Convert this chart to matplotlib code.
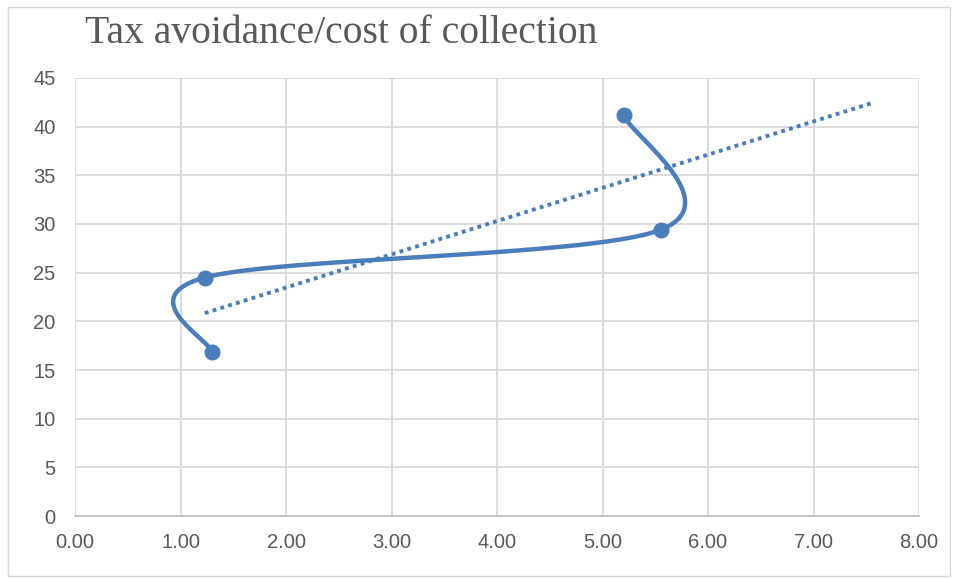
import numpy as np
import matplotlib.pyplot as plt
from matplotlib.patches import Rectangle

# data
cost_x = [1.30, 1.23, 5.55, 5.20]
avoid_y = [16.8, 24.5, 29.4, 41.2]
x_ticks = [0, 1, 2, 3, 4, 5, 6, 7, 8]
y_ticks = [0, 5, 10, 15, 20, 25, 30, 35, 40, 45]
trend_forward = 2.0

blue = "#4a7ebb"
grid = "#d9d9d9"
label_font = ["Liberation Sans Narrow", "Liberation Sans", "DejaVu Sans"]


def excel_smooth(xs, ys, n=60):
    """Bezier smoothing like Excel's 'smoothed line' (Catmull-Rom, /6)."""
    p = np.column_stack([xs, ys]).astype(float)
    ext = np.vstack([p[0], p, p[-1]])
    out = []
    t = np.linspace(0, 1, n)[:, None]
    for i in range(len(p) - 1):
        p0, p3 = ext[i + 1], ext[i + 2]
        c1 = p0 + (ext[i + 2] - ext[i]) / 6
        c2 = p3 - (ext[i + 3] - ext[i + 1]) / 6
        seg = ((1 - t) ** 3) * p0 + 3 * ((1 - t) ** 2) * t * c1 \
            + 3 * (1 - t) * t ** 2 * c2 + t ** 3 * p3
        out.append(seg)
    curve = np.vstack(out)
    return curve[:, 0], curve[:, 1]


fig = plt.figure(figsize=(9.57, 5.79), dpi=100)
fig.patches.append(Rectangle((0.008, 0.006), 0.985, 0.982, transform=fig.transFigure,
                             fill=False, edgecolor="#d9d9d9", linewidth=1.0))
ax = fig.add_axes([0.0784, 0.1088, 0.8819, 0.7565])

sx, sy = excel_smooth(cost_x, avoid_y)
ax.plot(sx, sy, color=blue, linewidth=3.2, solid_capstyle="round", zorder=3)
ax.plot(cost_x, avoid_y, "o", color=blue, markersize=10.5, zorder=4)

# linear trendline with forward forecast
slope, intercept = np.polyfit(cost_x, avoid_y, 1)
tx = np.array([min(cost_x), max(cost_x) + trend_forward])
ax.plot(tx, slope * tx + intercept, color=blue, linewidth=2.8,
        linestyle=(0, (1, 1.1)), zorder=2)

ax.set_xlim(0, 8)
ax.set_ylim(0, 45)
ax.set_xticks(x_ticks)
ax.set_yticks(y_ticks)
ax.set_xticklabels([f"{v:.2f}" for v in x_ticks], family=label_font, fontsize=14.5, color="#595959")
ax.set_yticklabels([str(v) for v in y_ticks], family=label_font, fontsize=14.5, color="#595959")
ax.tick_params(axis="x", length=0, pad=12)
ax.tick_params(axis="y", length=0, pad=14)
ax.grid(True, color=grid, linewidth=1.3)
ax.set_axisbelow(True)
for s in ["top", "right", "left"]:
    ax.spines[s].set_visible(False)
ax.spines["bottom"].set_color("#bfbfbf")
ax.spines["bottom"].set_linewidth(1.3)

fig.text(0.089, 0.942, "Tax avoidance/cost of collection", family=["Liberation Serif", "DejaVu Serif"],
         fontsize=28.5, color="#595959", va="center", ha="left")

fig.savefig("out.png", dpi=100)
